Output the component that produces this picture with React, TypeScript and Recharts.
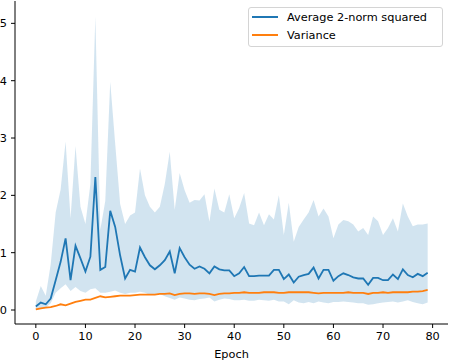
import { ComposedChart, Area, Line, XAxis, YAxis, Legend } from 'recharts';

// values, epoch 0..79
const meanNorm = [
  0.06, 0.13, 0.10, 0.20, 0.52, 0.84, 1.25, 0.52, 1.12, 0.90,
  0.67, 0.93, 2.32, 0.70, 0.75, 1.73, 1.45, 0.95, 0.55, 0.70,
  0.67, 1.09, 0.92, 0.78, 0.71, 0.78, 0.87, 1.02, 0.64, 1.08,
  0.92, 0.79, 0.72, 0.76, 0.72, 0.64, 0.76, 0.71, 0.69, 0.69,
  0.59, 0.64, 0.75, 0.59, 0.59, 0.60, 0.60, 0.60, 0.70, 0.70,
  0.54, 0.62, 0.48, 0.58, 0.61, 0.63, 0.74, 0.55, 0.70, 0.70,
  0.51, 0.59, 0.64, 0.61, 0.57, 0.55, 0.55, 0.44, 0.56, 0.56,
  0.52, 0.52, 0.62, 0.54, 0.71, 0.61, 0.57, 0.63, 0.59, 0.65,
];

const variance = [
  0.01, 0.03, 0.04, 0.05, 0.07, 0.10, 0.08, 0.11, 0.14, 0.16,
  0.18, 0.18, 0.21, 0.24, 0.22, 0.23, 0.24, 0.25, 0.25, 0.25,
  0.26, 0.27, 0.27, 0.27, 0.27, 0.28, 0.28, 0.29, 0.26, 0.28,
  0.29, 0.29, 0.28, 0.29, 0.29, 0.28, 0.26, 0.28, 0.29, 0.29,
  0.30, 0.30, 0.31, 0.30, 0.30, 0.30, 0.31, 0.31, 0.31, 0.30,
  0.30, 0.31, 0.31, 0.31, 0.31, 0.31, 0.30, 0.29, 0.30, 0.30,
  0.30, 0.30, 0.30, 0.31, 0.30, 0.30, 0.30, 0.28, 0.30, 0.30,
  0.31, 0.30, 0.31, 0.31, 0.31, 0.31, 0.32, 0.32, 0.33, 0.35,
];

const bandUpper = [
  0.15, 0.42, 0.25, 0.80, 1.70, 2.10, 2.94, 1.60, 2.86, 1.80,
  1.50, 2.20, 5.12, 1.40, 1.90, 3.98, 2.90, 1.85, 1.50, 1.65,
  1.70, 2.47, 2.00, 1.80, 1.70, 1.80, 2.20, 2.76, 1.75, 2.39,
  2.09, 1.87, 1.92, 1.91, 2.02, 1.54, 2.12, 1.75, 1.70, 2.02,
  1.60, 1.78, 2.04, 1.51, 1.48, 1.70, 1.48, 1.67, 1.58, 2.00,
  1.31, 1.87, 1.19, 1.45, 1.58, 1.70, 1.92, 1.63, 1.77, 1.63,
  1.25, 1.49, 1.57, 1.55, 1.49, 1.37, 1.43, 1.31, 1.63, 1.55,
  1.31, 1.43, 1.60, 1.37, 1.86, 1.63, 1.46, 1.49, 1.49, 1.51,
];

const bandLower = [
  0.00, 0.02, 0.04, 0.12, 0.30, 0.38, 0.45, 0.33, 0.40, 0.33,
  0.30, 0.36, 0.38, 0.30, 0.30, 0.32, 0.34, 0.30, 0.28, 0.30,
  0.30, 0.32, 0.30, 0.26, 0.27, 0.28, 0.24, 0.21, 0.18, 0.22,
  0.20, 0.18, 0.17, 0.19, 0.20, 0.22, 0.15, 0.18, 0.20, 0.19,
  0.17, 0.17, 0.18, 0.16, 0.16, 0.18, 0.17, 0.16, 0.18, 0.15,
  0.15, 0.10, 0.17, 0.13, 0.12, 0.14, 0.12, 0.15, 0.13, 0.12,
  0.14, 0.14, 0.15, 0.14, 0.13, 0.12, 0.12, 0.09, 0.10, 0.12,
  0.13, 0.14, 0.15, 0.13, 0.15, 0.17, 0.14, 0.12, 0.10, 0.13,
];

const xTicks = [0, 10, 20, 30, 40, 50, 60, 70, 80];
const yTicks = [0, 1, 2, 3, 4, 5];

const BLUE = '#1f77b4';
const ORANGE = '#ff7f0e';
const FONT = "'DejaVu Sans', sans-serif";
const FONT_SIZE = 11.3;

const legendItems = [
  { name: 'Average 2-norm squared', color: BLUE },
  { name: 'Variance', color: ORANGE },
];

const data = meanNorm.map((m, i) => ({
  epoch: i,
  mean: m,
  variance: variance[i],
  band: [bandLower[i], bandUpper[i]],
}));

const tickStyle = { fill: '#000', fontSize: FONT_SIZE, fontFamily: FONT };

function LegendBox() {
  return (
    <div
      style={{
        boxSizing: 'border-box',
        width: 195,
        height: 40,
        border: '1px solid #d4d4d4',
        borderRadius: 3,
        background: 'rgba(255,255,255,0.8)',
        padding: '0 0 2px 3px',
        fontFamily: FONT,
        fontSize: FONT_SIZE,
        color: '#000',
      }}
    >
      {legendItems.map(item => (
        <div key={item.name} style={{ display: 'flex', alignItems: 'center', height: 18 }}>
          <span style={{ width: 26, borderTop: `2px solid ${item.color}`, marginRight: 9 }} />
          <span>{item.name}</span>
        </div>
      ))}
    </div>
  );
}

export default function App() {
  return (
    <div style={{ position: 'absolute', left: 0, top: 0 }}>
      <ComposedChart width={450} height={360} data={data} margin={{ top: 1, right: 2, left: 0, bottom: 0 }}>
        <XAxis
          xAxisId="x"
          dataKey="epoch"
          type="number"
          domain={[-4.2, 83.1]}
          ticks={xTicks}
          allowDataOverflow
          height={36}
          tick={tickStyle}
          tickSize={4}
          tickMargin={4}
          tickLine={{ stroke: '#000' }}
          axisLine={{ stroke: '#000' }}
          label={{ value: 'Epoch', position: 'insideBottom', offset: 2, fill: '#000', fontSize: FONT_SIZE, fontFamily: FONT }}
        />
        <XAxis xAxisId="top" orientation="top" type="number" domain={[-4.2, 83.1]} height={0} tick={false} tickLine={false} axisLine={{ stroke: '#000' }} />
        <YAxis
          yAxisId="y"
          type="number"
          domain={[-0.244, 5.39]}
          ticks={yTicks}
          allowDataOverflow
          width={15}
          tick={tickStyle}
          tickSize={4}
          tickMargin={4}
          tickLine={{ stroke: '#000' }}
          axisLine={{ stroke: '#000' }}
        />
        <YAxis yAxisId="right" orientation="right" width={0} tick={false} tickLine={false} axisLine={{ stroke: '#000' }} />
        <Area
          xAxisId="x"
          yAxisId="y"
          type="linear"
          dataKey="band"
          stroke="none"
          fill={BLUE}
          fillOpacity={0.2}
          isAnimationActive={false}
        />
        <Line xAxisId="x" yAxisId="y" type="linear" dataKey="mean" stroke={BLUE} strokeWidth={1.8} dot={false} isAnimationActive={false} />
        <Line xAxisId="x" yAxisId="y" type="linear" dataKey="variance" stroke={ORANGE} strokeWidth={1.8} dot={false} isAnimationActive={false} />
        <Legend
          layout="vertical"
          align="center"
          verticalAlign="middle"
          content={() => <LegendBox />}
          wrapperStyle={{ position: 'absolute', left: 248, top: 7, width: 195, height: 40 }}
        />
      </ComposedChart>
    </div>
  );
}
